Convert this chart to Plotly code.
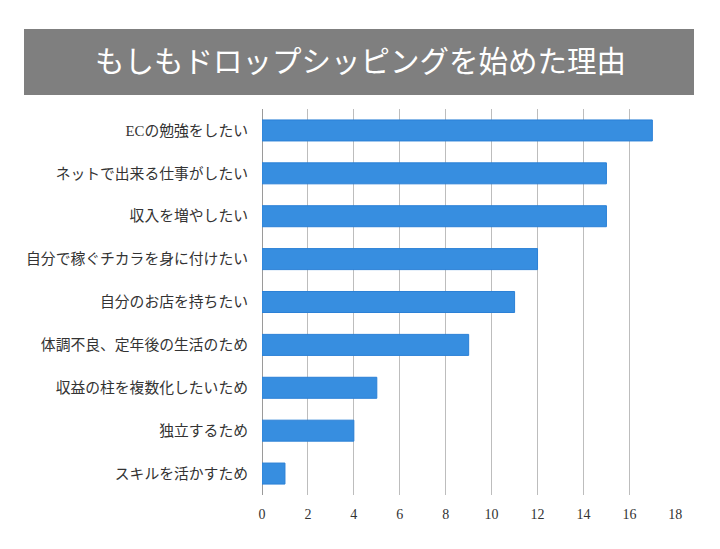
import plotly.graph_objects as go

# reasons (top to bottom) and number of answers
reasons = [
    "ECの勉強をしたい",
    "ネットで出来る仕事がしたい",
    "収入を増やしたい",
    "自分で稼ぐチカラを身に付けたい",
    "自分のお店を持ちたい",
    "体調不良、定年後の生活のため",
    "収益の柱を複数化したいため",
    "独立するため",
    "スキルを活かすため",
]
counts = [17, 15, 15, 12, 11, 9, 5, 4, 1]
x_ticks = [0, 2, 4, 6, 8, 10, 12, 14, 16, 18]

TITLE = "もしもドロップシッピングを始めた理由"
FONT = "Liberation Serif, DejaVu Serif, Noto Sans CJK JP, serif"

# page has an 8px body offset, so subtract it from the pixel positions
OFF = 8
W, H = 720, 549
L, R, T, B = 262 - OFF, 44 + OFF, 109 - OFF, 54 + OFF

fig = go.Figure()
fig.add_trace(go.Bar(
    x=counts,
    y=reasons,
    orientation='h',
    width=0.49,
    marker=dict(color='#378ee0', line=dict(color='#2b80d6', width=1)),
))

# grey title banner, placed in pixel terms converted to paper coords
pw, ph = W - L - R, H - T - B
def px_x(p):
    return (p - OFF - L) / pw
def px_y(p):
    return 1 - (p - OFF - T) / ph

fig.add_shape(
    type='rect', xref='paper', yref='paper',
    x0=px_x(24), x1=px_x(694), y0=px_y(95), y1=px_y(29),
    fillcolor='#7f7f7f', line=dict(width=0), layer='above',
)
fig.add_annotation(
    xref='paper', yref='paper', x=px_x(360), y=px_y(62),
    text=TITLE, showarrow=False, xanchor='center', yanchor='middle',
    font=dict(family=FONT, size=29.5, color='white'),
)

fig.update_yaxes(
    categoryorder='array', categoryarray=reasons[::-1],
    showgrid=False, ticks='', ticklabelstandoff=13,
    tickfont=dict(family=FONT, size=14.8, color='#333333'),
)
fig.update_xaxes(
    range=[0, 18.03], tickvals=x_ticks, showgrid=True,
    gridcolor='#bdbdbd', gridwidth=1, zeroline=True,
    zerolinecolor='#9a9a9a', zerolinewidth=1, showline=False,
    ticks='', ticklabelstandoff=9,
    tickfont=dict(family=FONT, size=14, color='#333333'),
)
fig.update_layout(
    width=W, height=H,
    margin=dict(l=L, r=R, t=T, b=B),
    plot_bgcolor='white', paper_bgcolor='white',
    showlegend=False,
    bargap=0.5,
)
fig.write_html("out.html")
